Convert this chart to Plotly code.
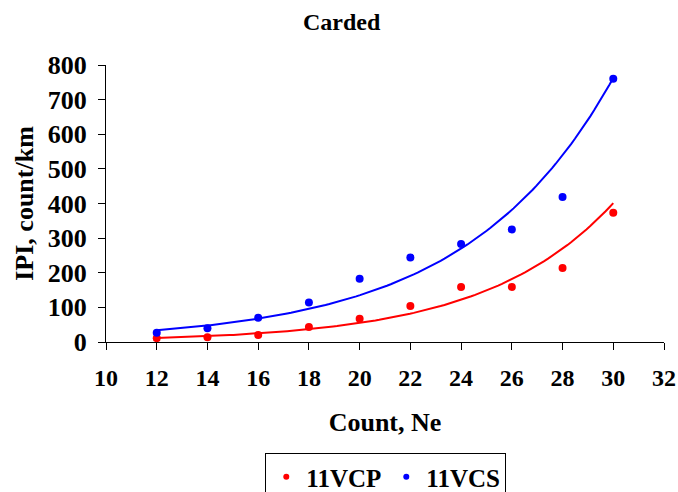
import numpy as np
import plotly.graph_objects as go

counts = [12, 14, 16, 18, 20, 22, 24, 26, 28, 30]
ipi_vcp = [11, 14, 20, 43, 67, 104, 159, 159, 214, 373]
ipi_vcs = [27, 40, 70, 114, 183, 244, 283, 325, 419, 760]
x_ticks = list(range(10, 34, 2))
y_ticks = list(range(0, 900, 100))
series_names = ["11VCP", "11VCS"]
series_colors = ["#ff0000", "#0000ff"]

FONT = "Liberation Serif"

def exp_fit(x, y):
    b, a = np.polyfit(np.array(x, float), np.log(np.array(y, float)), 1)
    xs = np.linspace(min(x), max(x), 120)
    return xs, np.exp(a + b * xs)

series = [ipi_vcp, ipi_vcs]
fig = go.Figure()
for vals, col in zip(series, series_colors):
    xs, ys = exp_fit(counts, vals)
    fig.add_trace(go.Scatter(x=xs, y=ys, mode="lines", line=dict(color=col, width=2),
                             showlegend=False, hoverinfo="skip"))
for vals, col in zip(series, series_colors):
    fig.add_trace(go.Scatter(x=counts, y=vals, mode="markers", showlegend=False,
                             marker=dict(color=col, size=8)))
for name, col in zip(series_names, series_colors):
    fig.add_trace(go.Scatter(x=[None], y=[None], mode="markers", name=f"<b>{name}</b>",
                             marker=dict(color=col, size=6)))

fig.update_layout(
    width=678, height=492,
    margin=dict(l=106, r=14, t=65, b=150),
    paper_bgcolor="white", plot_bgcolor="white",
    font=dict(family=FONT, color="black", size=24),
    title=dict(text="<b>Carded</b>", x=0.504, xanchor="center", y=0.957, yanchor="middle",
               font=dict(size=24, family=FONT)),
    xaxis=dict(range=[10, 32], tickvals=x_ticks, ticktext=[f"<b>{v}</b>" for v in x_ticks],
               showline=True, linecolor="black", linewidth=1, ticks="outside", ticklen=7,
               tickcolor="black", showgrid=False, zeroline=False, automargin=False,
               tickfont=dict(size=24), ticklabelstandoff=7,
               title=dict(text="<b>Count, Ne</b>", standoff=23, font=dict(size=26))),
    yaxis=dict(range=[0, 800], tickvals=y_ticks, ticktext=[f"<b>{v}</b>" for v in y_ticks],
               showline=True, linecolor="black", linewidth=1, ticks="outside", ticklen=7,
               tickcolor="black", showgrid=False, zeroline=False, automargin=False,
               tickfont=dict(size=26), ticklabelstandoff=6,
               title=dict(text="<b>IPI, count/km</b>", standoff=6, font=dict(size=26))),
    legend=dict(orientation="h", xref="container", yref="container",
                x=0.569, xanchor="center", y=1 - 453 / 492, yanchor="top",
                bordercolor="black", borderwidth=1, font=dict(size=25, family=FONT),
                itemwidth=30, tracegroupgap=0),
    showlegend=True,
)
fig.write_html("out.html", config={"displayModeBar": False},
               post_script="document.body.style.margin='0';document.body.style.overflow='hidden';")
